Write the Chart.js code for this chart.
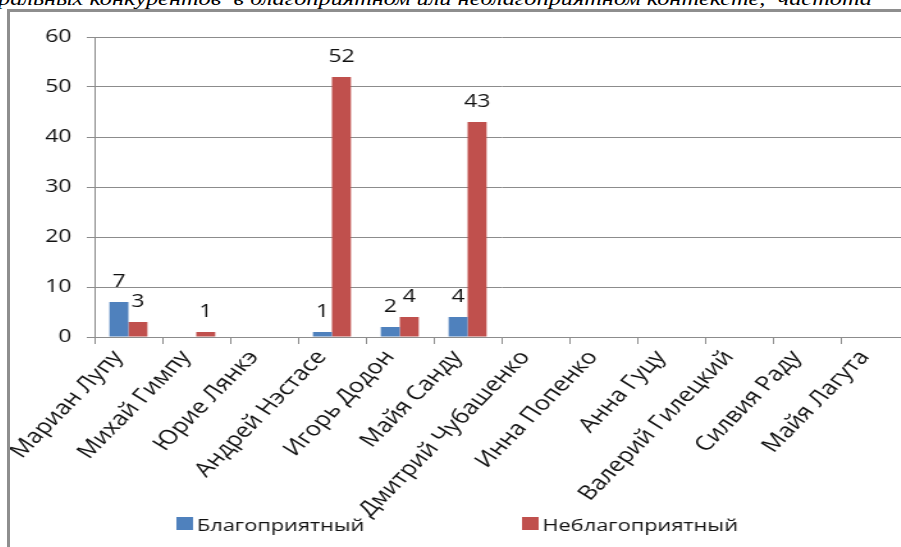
<!DOCTYPE html>
<html lang="ru">
<head>
<meta charset="utf-8">
<title>Упоминание электоральных конкурентов</title>
<script src="https://cdn.jsdelivr.net/npm/chart.js@4/dist/chart.umd.min.js"></script>
<style>
  html, body { margin: 0; padding: 0; background: #fff; width: 901px; height: 547px; overflow: hidden; }
  #caption {
    position: absolute; left: -2px; top: -12px;
    font: italic 19px "Liberation Serif", serif; color: #000;
    white-space: nowrap; transform: scaleX(1.28); transform-origin: 0 0;
  }
  #frame {
    position: absolute; left: 7px; top: 9px; width: 1000px; height: 600px;
    border-left: 3px solid #8e8e8e; border-top: 3px solid #8e8e8e;
  }
  #wrap { position: absolute; left: 0; top: 0; transform: scaleX(1.28); transform-origin: 0 0; }
  canvas { display: block; }
</style>
</head>
<body>
<div id="caption">ральных конкурентов&nbsp; в благоприятном или неблагоприятном контексте,&nbsp; частота</div>
<div id="frame">
  <div id="wrap"><canvas id="mentionsChart" width="710" height="535" style="width:710px;height:535px"></canvas></div>
</div>
<script>
// Candidates and how often each was mentioned in a positive / negative context
const candidates = [
  'Мариан Лупу', 'Михай Гимпу', 'Юрие Лянкэ', 'Андрей Нэстасе', 'Игорь Додон', 'Майя Санду',
  'Дмитрий Чубашенко', 'Инна Попенко', 'Анна Гуцу', 'Валерий Гилецкий', 'Силвия Раду', 'Майя Лагута'
];
const favourable   = [7, null, null, 1, 2, 4, null, null, null, null, null, null];
const unfavourable = [3, 1, null, 52, 4, 43, null, null, null, null, null, null];
const seriesNames  = ['Благоприятный', 'Неблагоприятный'];
const yMin = 0, yMax = 60, yStep = 10;

const BLUE = '#4f81bd';
const RED = '#c0504d';
const GRID = '#8c8c8c';
const FONT = '"Open Sans", "Noto Sans", sans-serif';

// numbers above the bars (blank cells get no label)
const valueLabels = {
  id: 'valueLabels',
  afterDatasetsDraw(chart) {
    const ctx = chart.ctx;
    ctx.save();
    ctx.font = '18px ' + FONT;
    ctx.fillStyle = '#111';
    ctx.textAlign = 'center';
    ctx.textBaseline = 'alphabetic';
    chart.data.datasets.forEach((ds, i) => {
      chart.getDatasetMeta(i).data.forEach((bar, j) => {
        const v = ds.data[j];
        if (v === null || v === undefined) return;
        ctx.fillText(String(v), bar.x, bar.y - 15);
      });
    });
    ctx.restore();
  }
};

// legend sits low, over the tail of the rotated labels
const bottomLegend = {
  id: 'bottomLegend',
  afterDraw(chart) {
    const ctx = chart.ctx;
    const xs = [130, 400];
    const y = chart.height - 16;
    ctx.save();
    ctx.font = '17px ' + FONT;
    ctx.textBaseline = 'alphabetic';
    ctx.textAlign = 'left';
    chart.data.datasets.forEach((ds, i) => {
      ctx.fillStyle = ds.backgroundColor;
      ctx.fillRect(xs[i], y - 14, 13, 13);
      ctx.fillStyle = '#111';
      ctx.fillText(ds.label, xs[i] + 16, y);
    });
    ctx.restore();
  }
};

new Chart(document.getElementById('mentionsChart'), {
  type: 'bar',
  data: {
    labels: candidates,
    datasets: [
      { label: seriesNames[0], data: favourable, backgroundColor: BLUE },
      { label: seriesNames[1], data: unfavourable, backgroundColor: RED }
    ]
  },
  options: {
    responsive: false,
    animation: false,
    devicePixelRatio: 1,
    layout: { padding: { top: 25, right: 8, left: 0, bottom: 0 } },
    datasets: { bar: { barPercentage: 1, categoryPercentage: 0.56 } },
    plugins: {
      legend: { display: false },
      tooltip: { enabled: false }
    },
    scales: {
      x: {
        grid: { offset: true, drawOnChartArea: false, drawTicks: true, tickLength: 7, color: GRID },
        border: { color: GRID },
        ticks: {
          autoSkip: false, minRotation: 52, maxRotation: 52, padding: 2, labelOffset: -8,
          color: '#111', font: { family: FONT, size: 20 }
        },
        afterFit: s => { s.height = 210; }
      },
      y: {
        min: yMin,
        max: yMax,
        grid: { color: GRID, tickLength: 6 },
        border: { color: GRID },
        ticks: { stepSize: yStep, padding: 12, color: '#111', font: { family: FONT, size: 18 } },
        afterFit: s => { s.width = 66; }
      }
    }
  },
  plugins: [valueLabels, bottomLegend]
});
</script>
</body>
</html>
